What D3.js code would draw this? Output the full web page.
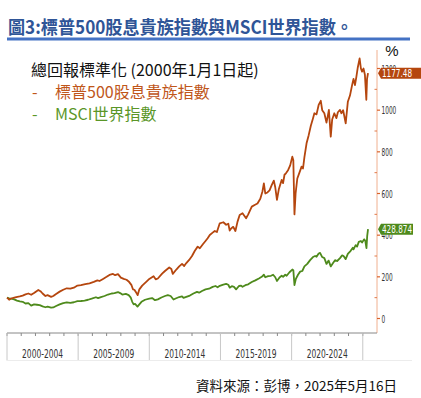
<!DOCTYPE html>
<html>
<head>
<meta charset="utf-8">
<script src="https://cdn.jsdelivr.net/npm/d3@7/dist/d3.min.js"></script>
<style>
  html, body { margin: 0; padding: 0; background: #fff; }
  svg { display: block; }
</style>
</head>
<body>
<svg id="chart" width="421" height="398"></svg>
<script>
// ---------- DATA ----------
const titleText = "圖3:標普500股息貴族指數與MSCI世界指數。";
const legendTitle = "總回報標準化 (2000年1月1日起)";
const seriesNames = ["標普500股息貴族指數", "MSCI世界指數"];
const periodLabels = ["2000-2004", "2005-2009", "2010-2014", "2015-2019", "2020-2024"];
const periodStarts = [2000, 2005, 2010, 2015, 2020, 2025];
const yTickValues = [0, 200, 400, 600, 800, 1000, 1200];
const yMinorTicks = [100, 300, 500, 700, 900, 1100];
const sourceText = "資料來源：彭博，2025年5月16日";
const unitLabel = "%";
const lastValues = [1177.48, 428.874];
const lastLabels = ["1177.48", "428.874"];

// [decimal year, value]
const aristocrats = [
  [2000.00,100],[2000.08,95],[2000.15,90],[2000.3,96],[2000.45,99],[2000.65,103],[2000.9,106],
  [2001.1,110],[2001.3,116],[2001.5,120],[2001.7,114],[2001.9,122],[2002.05,130],[2002.2,137],
  [2002.35,131],[2002.5,120],[2002.7,108],[2002.85,112],[2003.1,104],[2003.25,108],[2003.45,118],
  [2003.7,129],[2003.95,138],[2004.2,145],[2004.45,143],[2004.7,148],[2004.95,158],[2005.2,160],
  [2005.5,165],[2005.8,169],[2006.1,176],[2006.35,183],[2006.5,180],[2006.75,190],[2007.0,200],
  [2007.2,209],[2007.45,214],[2007.6,208],[2007.8,213],[2008.0,196],[2008.2,190],[2008.4,186],
  [2008.55,178],[2008.75,160],[2008.85,140],[2008.95,138],[2009.1,122],[2009.18,112],[2009.3,140],
  [2009.5,158],[2009.8,177],[2010.0,190],[2010.3,203],[2010.45,188],[2010.6,192],[2010.9,215],
  [2011.1,228],[2011.4,245],[2011.55,238],[2011.65,214],[2011.9,235],[2012.1,250],[2012.3,262],
  [2012.45,252],[2012.6,266],[2012.8,281],[2013.0,300],[2013.2,325],[2013.4,345],[2013.55,337],
  [2013.75,355],[2013.95,372],[2014.1,385],[2014.25,401],[2014.45,412],[2014.6,420],[2014.75,415],
  [2014.95,457],[2015.2,462],[2015.4,450],[2015.55,455],[2015.65,422],[2015.75,432],[2015.9,440],
  [2016.05,420],[2016.2,465],[2016.35,497],[2016.55,505],[2016.8,481],[2016.95,500],[2017.2,537],
  [2017.4,545],[2017.6,552],[2017.8,575],[2017.95,610],[2018.05,649],[2018.15,600],[2018.3,605],
  [2018.45,615],[2018.6,640],[2018.75,662],[2018.85,630],[2018.97,569],[2019.1,620],[2019.3,665],
  [2019.4,650],[2019.5,690],[2019.6,697],[2019.75,712],[2019.9,735],[2020.05,777],[2020.12,760],
  [2020.2,500],[2020.28,600],[2020.4,672],[2020.55,700],[2020.7,729],[2020.8,720],[2020.9,775],
  [2021.05,841],[2021.2,880],[2021.35,925],[2021.5,960],[2021.6,985],[2021.75,980],[2021.9,1025],
  [2022.05,1045],[2022.15,1000],[2022.3,985],[2022.45,940],[2022.55,975],[2022.62,1001],[2022.75,873],
  [2022.85,955],[2023.0,985],[2023.15,962],[2023.25,990],[2023.4,1001],[2023.5,985],[2023.62,1000],
  [2023.8,937],[2023.95,1040],[2024.1,1070],[2024.25,1120],[2024.35,1150],[2024.45,1120],[2024.55,1160],
  [2024.65,1205],[2024.78,1248],[2024.87,1200],[2024.95,1185],[2025.05,1200],[2025.15,1170],
  [2025.25,1050],[2025.3,1150],[2025.37,1177.48]
];

const msciWorld = [
  [2000.0,100],[2000.15,97],[2000.3,95],[2000.5,92],[2000.7,86],[2000.9,82],[2001.1,80],
  [2001.3,72],[2001.5,74],[2001.7,62],[2001.9,68],[2002.1,66],[2002.3,64],[2002.5,58],
  [2002.7,54],[2002.85,57],[2003.1,52],[2003.25,53],[2003.45,60],[2003.7,68],[2003.95,74],
  [2004.2,77],[2004.45,75],[2004.7,78],[2004.95,83],[2005.2,84],[2005.45,86],[2005.7,90],
  [2005.95,95],[2006.25,102],[2006.4,98],[2006.6,103],[2006.85,108],[2007.1,115],[2007.35,120],
  [2007.55,122],[2007.8,127],[2007.95,122],[2008.1,115],[2008.35,118],[2008.55,112],[2008.7,100],
  [2008.8,80],[2008.9,68],[2009.0,70],[2009.17,57],[2009.3,68],[2009.45,80],[2009.7,90],
  [2010.0,95],[2010.2,98],[2010.4,88],[2010.6,92],[2010.85,101],[2011.1,108],[2011.3,112],
  [2011.5,108],[2011.7,91],[2011.85,96],[2012.1,103],[2012.3,106],[2012.4,99],[2012.6,104],
  [2012.85,110],[2013.1,120],[2013.35,128],[2013.5,124],[2013.7,132],[2013.95,140],[2014.2,143],
  [2014.45,152],[2014.65,156],[2014.8,150],[2014.95,157],[2015.2,163],[2015.4,166],[2015.55,162],
  [2015.65,148],[2015.8,155],[2015.95,152],[2016.1,140],[2016.3,156],[2016.45,158],[2016.55,152],
  [2016.75,160],[2016.95,164],[2017.2,175],[2017.45,183],[2017.7,192],[2017.9,200],[2018.05,210],
  [2018.15,198],[2018.35,203],[2018.55,205],[2018.7,210],[2018.85,198],[2018.97,180],[2019.15,197],
  [2019.3,205],[2019.4,200],[2019.55,210],[2019.65,205],[2019.85,222],[2020.05,235],[2020.12,232],
  [2020.2,160],[2020.3,190],[2020.45,210],[2020.6,225],[2020.75,228],[2020.9,250],[2021.1,262],
  [2021.3,280],[2021.5,295],[2021.65,300],[2021.75,296],[2021.9,312],[2022.0,315],[2022.15,295],
  [2022.3,290],[2022.45,262],[2022.6,278],[2022.75,250],[2022.9,265],[2023.05,280],[2023.2,276],
  [2023.4,290],[2023.55,303],[2023.65,300],[2023.8,285],[2023.95,310],[2024.15,325],[2024.3,340],
  [2024.35,332],[2024.5,352],[2024.6,345],[2024.72,368],[2024.87,372],[2024.95,365],[2025.1,380],
  [2025.18,372],[2025.26,338],[2025.31,395],[2025.37,428.874]
];

// ---------- LAYOUT ----------
const svg = d3.select("#chart");
const plot = { left: 7, right: 377, top: 50, bottom: 333 };
const catBottom = 360.5;

const x = d3.scaleLinear().domain([2000, 2026]).range([plot.left, plot.right]);
const y = d3.scaleLinear().domain([0, 1200]).range([318.5, 68.5]);

const colors = { brown: "#b5460e", green: "#4e8a1c", legendBrown: "#c0561a", legendGreen: "#5a9628" };
const cjk = "'Noto Sans CJK TC','Noto Sans CJK SC',sans-serif";
const narrow = "'Liberation Sans Narrow','DejaVu Sans Condensed','Liberation Sans',sans-serif";

// Title
svg.append("text")
  .attr("x", 8).attr("y", 26)
  .attr("dominant-baseline", "central")
  .attr("font-family", cjk).attr("font-weight", "bold")
  .attr("font-size", 18).attr("fill", "#2f5597")
  .attr("textLength", 345).attr("lengthAdjust", "spacingAndGlyphs")
  .text(titleText);
svg.append("line")
  .attr("x1", 7).attr("x2", 410).attr("y1", 39).attr("y2", 39)
  .attr("stroke", "#4472c4").attr("stroke-width", 3);

// Right axis line
svg.append("line")
  .attr("x1", plot.right).attr("x2", plot.right)
  .attr("y1", plot.top).attr("y2", plot.bottom)
  .attr("stroke", "#f0b090").attr("stroke-width", 1);

// Y ticks and labels
const yAxisG = svg.append("g");
yAxisG.selectAll(".maj").data(yTickValues).enter().append("line")
  .attr("x1", plot.right).attr("x2", plot.right + 3)
  .attr("y1", d => y(d)).attr("y2", d => y(d))
  .attr("stroke", "#d9622b").attr("stroke-width", 1.2);
yAxisG.selectAll(".min").data(yMinorTicks).enter().append("line")
  .attr("x1", plot.right - 2.5).attr("x2", plot.right)
  .attr("y1", d => y(d)).attr("y2", d => y(d))
  .attr("stroke", "#e07a4a").attr("stroke-width", 1);
yAxisG.selectAll(".lab").data(yTickValues).enter().append("text")
  .attr("x", plot.right + 4.5).attr("y", d => y(d))
  .attr("dominant-baseline", "central")
  .attr("font-family", narrow)
  .attr("font-size", 10.5).attr("fill", "#333")
  .attr("textLength", d => String(d).length * 3.7)
  .attr("lengthAdjust", "spacingAndGlyphs")
  .text(d => d);

// Unit label
svg.append("text")
  .attr("x", 392).attr("y", 50)
  .attr("text-anchor", "middle").attr("dominant-baseline", "central")
  .attr("font-family", "'Liberation Sans',sans-serif").attr("font-size", 15).attr("fill", "#111")
  .text(unitLabel);

// X axis
svg.append("line")
  .attr("x1", plot.left).attr("x2", plot.right)
  .attr("y1", plot.bottom).attr("y2", plot.bottom)
  .attr("stroke", "#888").attr("stroke-width", 1);
const years = d3.range(2000, 2026);
svg.selectAll(".yt").data(years).enter().append("line")
  .attr("x1", d => x(d)).attr("x2", d => x(d))
  .attr("y1", plot.bottom).attr("y2", plot.bottom + 3)
  .attr("stroke", "#888").attr("stroke-width", 1);
svg.selectAll(".sep").data(periodStarts).enter().append("line")
  .attr("x1", d => x(d)).attr("x2", d => x(d))
  .attr("y1", plot.bottom).attr("y2", catBottom)
  .attr("stroke", "#c8c8c8").attr("stroke-width", 1);
svg.append("line")
  .attr("x1", plot.left).attr("x2", 412)
  .attr("y1", catBottom).attr("y2", catBottom)
  .attr("stroke", "#ececec").attr("stroke-width", 1);
svg.selectAll(".pl").data(periodLabels).enter().append("text")
  .attr("x", (d, i) => (x(periodStarts[i]) + x(periodStarts[i + 1])) / 2)
  .attr("y", 354)
  .attr("text-anchor", "middle").attr("dominant-baseline", "central")
  .attr("font-family", narrow)
  .attr("font-size", 11.5).attr("fill", "#333")
  .attr("textLength", 41).attr("lengthAdjust", "spacingAndGlyphs")
  .text(d => d);

// Lines
const line = d3.line().x(d => x(d[0])).y(d => y(d[1])).curve(d3.curveLinear);
svg.append("path").datum(msciWorld)
  .attr("d", line).attr("fill", "none")
  .attr("stroke", colors.green).attr("stroke-width", 1.8).attr("stroke-linejoin", "round");
svg.append("path").datum(aristocrats)
  .attr("d", line).attr("fill", "none")
  .attr("stroke", colors.brown).attr("stroke-width", 1.8).attr("stroke-linejoin", "round");

// End value labels
const endColors = [colors.brown, colors.green];
const boxWidths = [44, 35];
lastValues.forEach((v, i) => {
  const cy = y(v);
  const x0 = plot.right + 1, h = 11, w = boxWidths[i];
  const g = svg.append("g");
  g.append("path")
    .attr("d", `M${x0},${cy} L${x0 + 3},${cy - h / 2} L${x0 + w},${cy - h / 2} L${x0 + w},${cy + h / 2} L${x0 + 3},${cy + h / 2} Z`)
    .attr("fill", endColors[i]);
  g.append("text")
    .attr("x", x0 + 4).attr("y", cy)
    .attr("dominant-baseline", "central")
    .attr("font-family", narrow)
    .attr("font-size", 11).attr("fill", "#fff")
    .attr("textLength", 30).attr("lengthAdjust", "spacingAndGlyphs")
    .text(lastLabels[i]);
});

// Legend
svg.append("text")
  .attr("x", 31).attr("y", 69).attr("dominant-baseline", "central")
  .attr("font-family", cjk).attr("font-size", 16).attr("fill", "#111")
  .text(legendTitle);
const legendColors = [colors.legendBrown, colors.legendGreen];
seriesNames.forEach((name, i) => {
  const ly = 91 + i * 22;
  svg.append("text")
    .attr("x", 32).attr("y", ly).attr("dominant-baseline", "central")
    .attr("font-family", cjk).attr("font-size", 16).attr("fill", legendColors[i])
    .text("-");
  svg.append("text")
    .attr("x", 55).attr("y", ly).attr("dominant-baseline", "central")
    .attr("font-family", cjk).attr("font-size", 16).attr("fill", legendColors[i])
    .text(name);
});

// Source
svg.append("text")
  .attr("x", 397).attr("y", 385)
  .attr("text-anchor", "end").attr("dominant-baseline", "central")
  .attr("font-family", cjk).attr("font-size", 13.5).attr("fill", "#111")
  .text(sourceText);
</script>
</body>
</html>
